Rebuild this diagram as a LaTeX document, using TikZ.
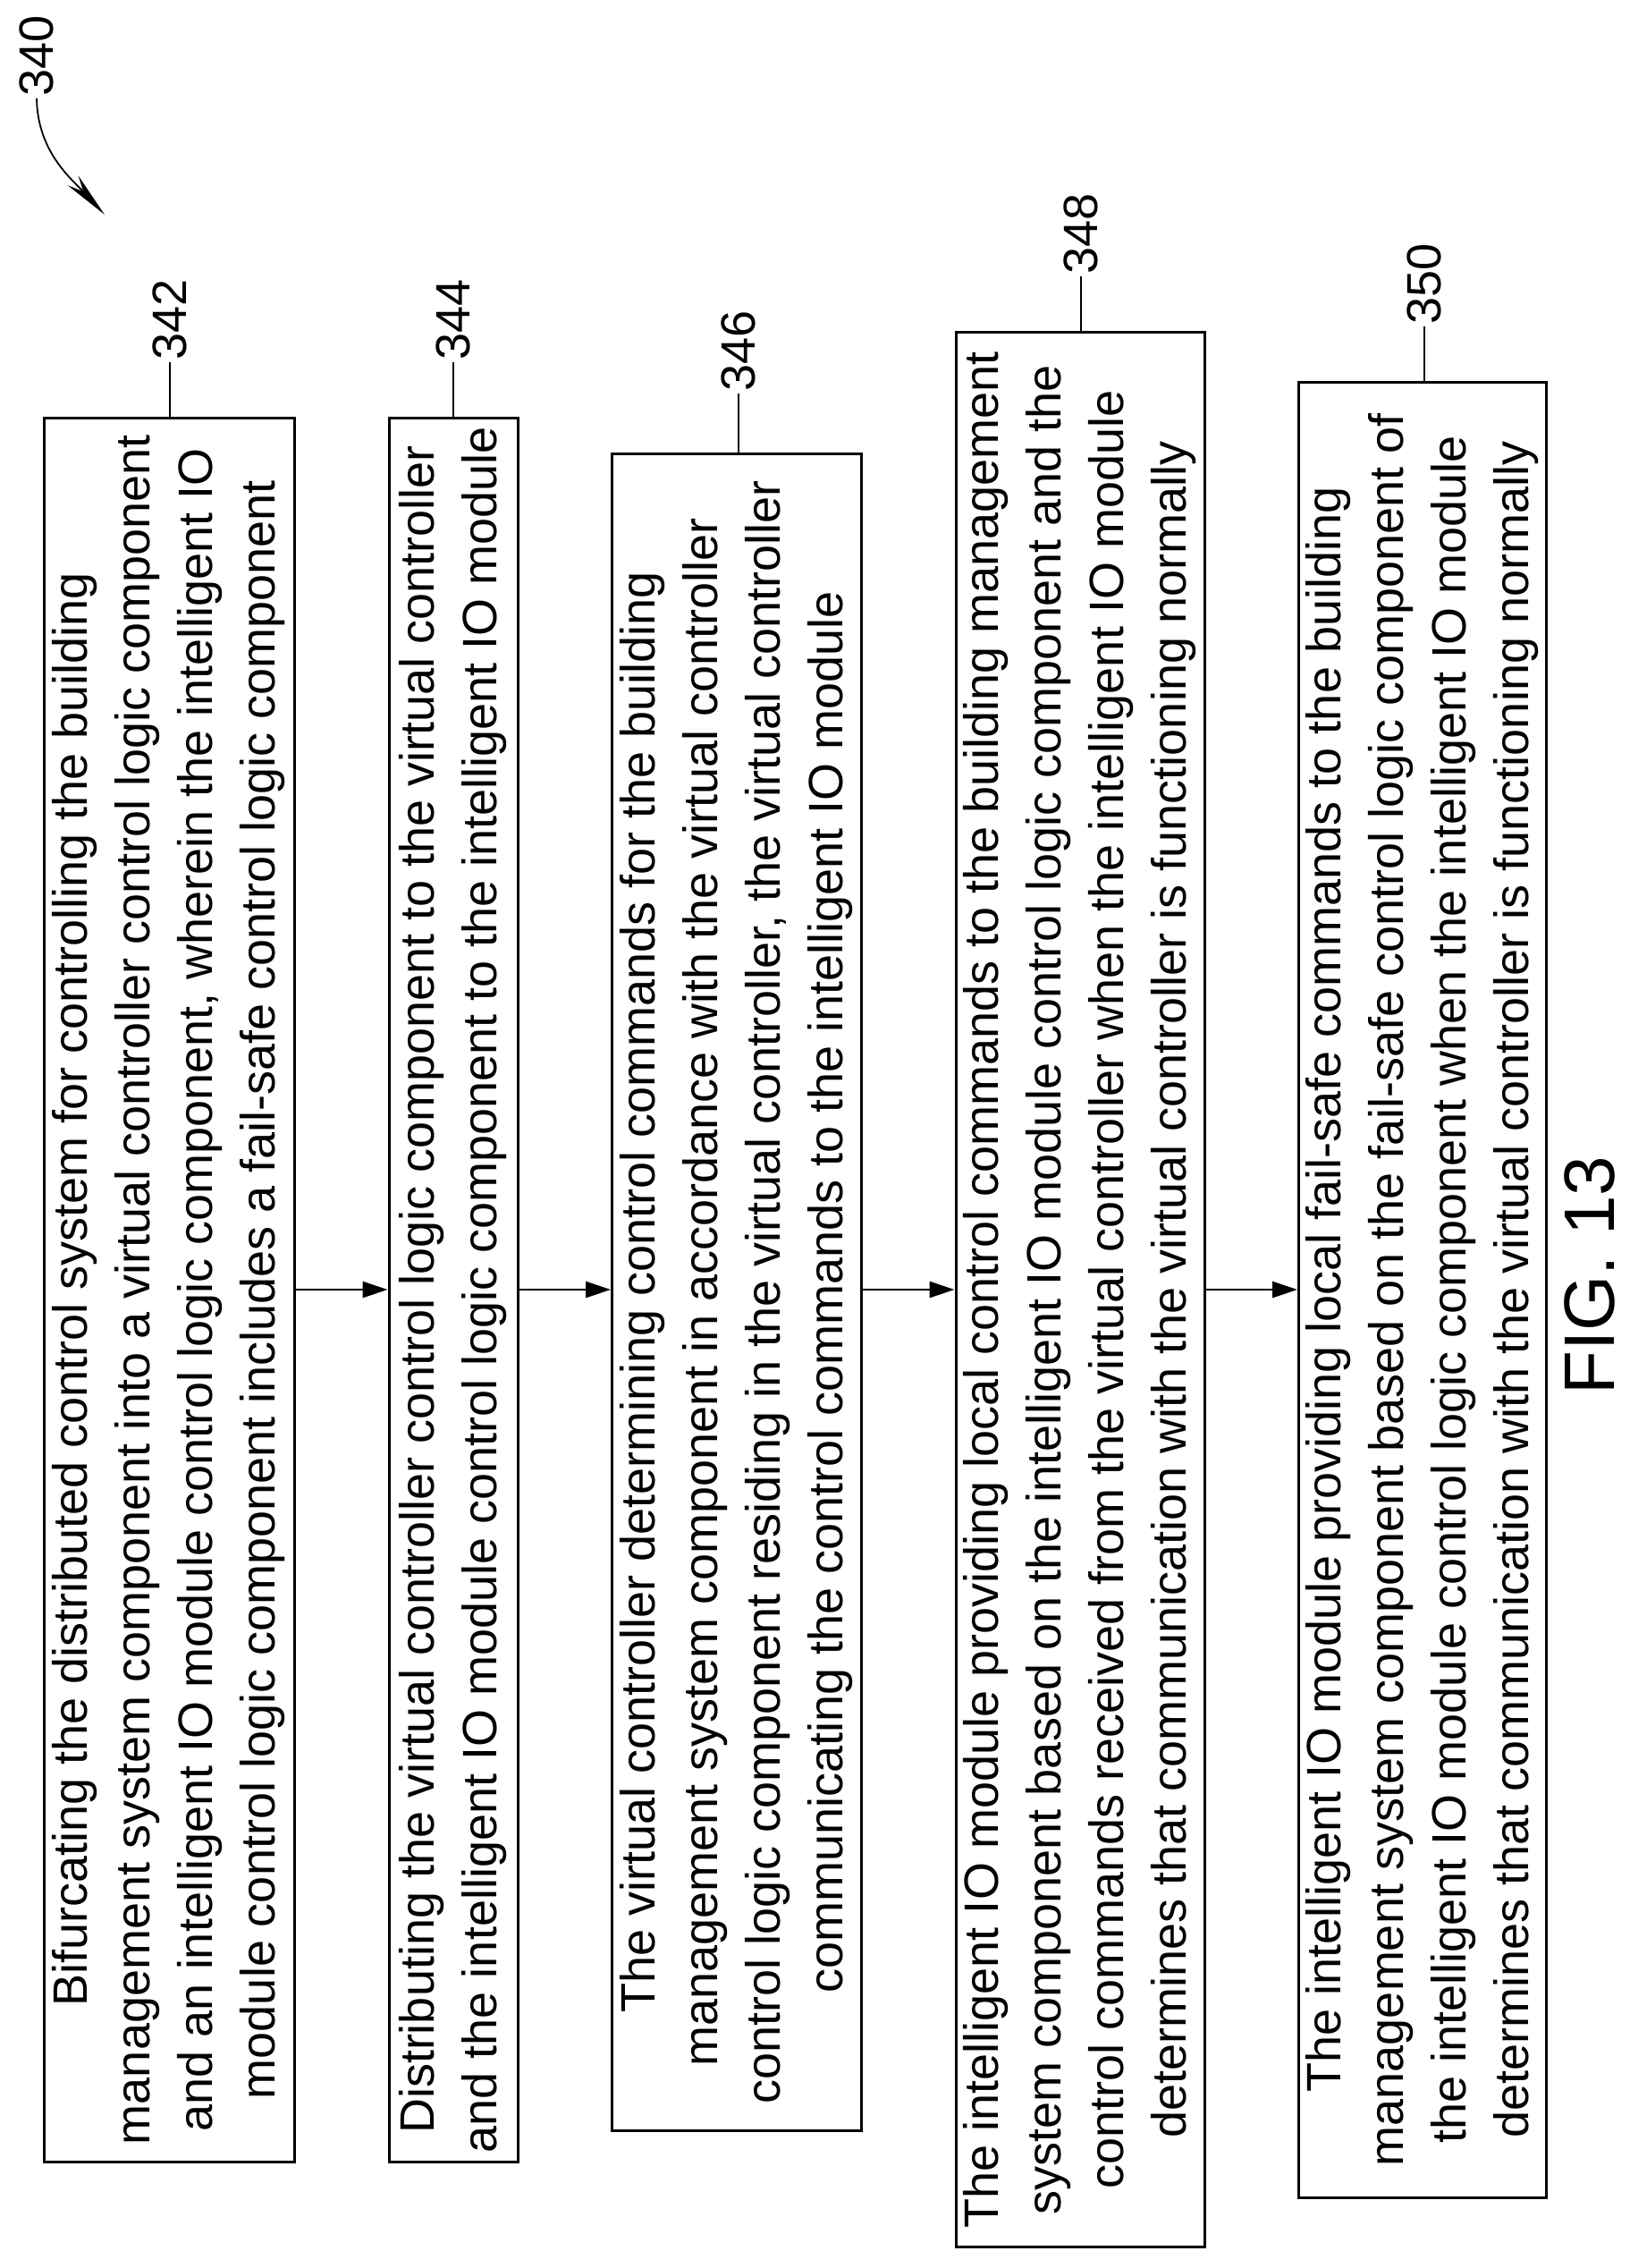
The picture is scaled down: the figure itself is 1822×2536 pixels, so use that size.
\documentclass[tikz,border=0pt]{standalone}
\usepackage{fontspec}
\setmainfont{Liberation Sans}
\usetikzlibrary{arrows.meta}
\begin{document}
\begin{tikzpicture}[x=0.5pt,y=-0.5pt,
  box/.style={draw,line width=1.5pt,rotate=90,align=center,inner sep=0pt,
    font=\fontsize{27}{35}\selectfont},
  num/.style={rotate=90,font=\fontsize{27}{28}\selectfont,inner sep=1pt},
  lead/.style={line width=0.9pt},
  flow/.style={line width=1.3pt,-{Triangle[length=14pt,width=9pt]}}]
\useasboundingbox (0,0) rectangle (1822,2536);
\node[box,minimum width=975pt,minimum height=140pt] (b342) at (189,1442)
 {Bifurcating the distributed control system for controlling the building\\
  management system component into a virtual controller control logic component\\
  and an intelligent IO module control logic component, wherein the intelligent IO\\
  module control logic component includes a fail-safe control logic component};
\node[box,minimum width=975pt,minimum height=72pt] (b344) at (507,1442)
 {Distributing the virtual controller control logic component to the virtual controller\\
  and the intelligent IO module control logic component to the intelligent IO module};
\node[box,minimum width=937.5pt,minimum height=139.5pt] (b346) at (824,1445)
 {The virtual controller determining control commands for the building\\
  management system component in accordance with the virtual controller\\
  control logic component residing in the virtual controller, the virtual controller\\
  communicating the control commands to the intelligent IO module};
\node[box,minimum width=1070.5pt,minimum height=139pt] (b348) at (1208,1442)
 {The intelligent IO module providing local control commands to the building management\\
  system component based on the intelligent IO module control logic component and the\\
  control commands received from the virtual controller when the intelligent IO module\\
  determines that communication with the virtual controller is functioning normally};
\node[box,minimum width=1015pt,minimum height=138.5pt] (b350) at (1591,1442)
 {The intelligent IO module providing local fail-safe commands to the building\\
  management system component based on the fail-safe control logic component of\\
  the intelligent IO module control logic component when the intelligent IO module\\
  determines that communication with the virtual controller is functioning normally};
\draw[flow] (b342.south) -- (b344.north);
\draw[flow] (b344.south) -- (b346.north |- b344.south);
\draw[flow] (b346.south |- b348.north) -- (b348.north);
\draw[flow] (b348.south) -- (b350.north);
\node[num,anchor=west] (n342) at (190,405) {342};
\node[num,anchor=west] (n344) at (507,405) {344};
\node[num,anchor=west] (n346) at (826,440) {346};
\node[num,anchor=west] (n348) at (1209,309) {348};
\node[num,anchor=west] (n350) at (1593,365) {350};
\draw[lead] (n342.west) -- (b342.east -| n342.west);
\draw[lead] (n344.west) -- (b344.east -| n344.west);
\draw[lead] (n346.west) -- (b346.east -| n346.west);
\draw[lead] (n348.west) -- (b348.east -| n348.west);
\draw[lead] (n350.west) -- (b350.east -| n350.west);
\node[num,anchor=west] (n340) at (41,110) {340};
\coordinate (t340) at (117,240);
\draw[lead,-{Stealth[length=26pt,width=8pt]}] (n340.west) .. controls (42,170) and (80,200) .. (t340);
\node[rotate=90,font=\fontsize{40}{44}\selectfont] (fig) at (1778,1426) {FIG. 13};
\end{tikzpicture}
\end{document}
